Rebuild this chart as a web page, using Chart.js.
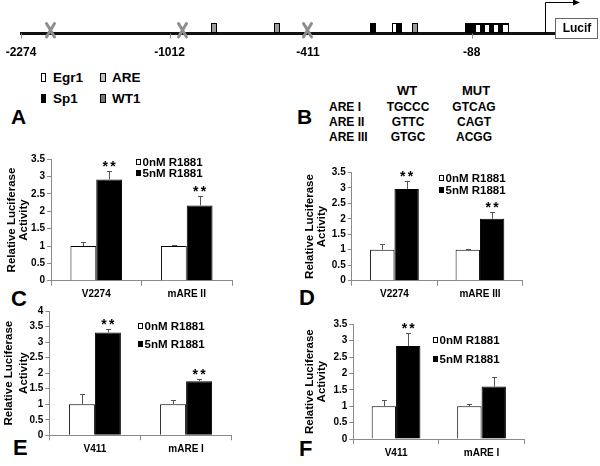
<!DOCTYPE html>
<html>
<head>
<meta charset="utf-8">
<script src="https://cdn.jsdelivr.net/npm/chart.js@4.4.1/dist/chart.umd.min.js"></script>
<style>
    body { margin: 0; background: #fff; }
    #fig { position: relative; width: 600px; height: 466px; overflow: hidden; background: #fff;
           font-family: "Liberation Sans", Arial, sans-serif; font-weight: bold; color: #000; }
    #fig canvas { position: absolute; }
    .c { position: absolute; white-space: nowrap; line-height: 1; transform: translate(-50%, -50%); }
    .l { position: absolute; white-space: nowrap; line-height: 1; transform: translate(0, -50%); }
    .key { position: absolute; border: 1px solid #000; box-sizing: border-box; }
</style>
</head>
<body>
<div id="fig">
    <canvas id="promoter" width="600" height="62" style="left:0;top:0"></canvas>

    <!-- site legend -->
    <div class="key" style="left:41px;top:73px;width:5px;height:9px;background:#fff"></div>
    <div class="l" style="left:53px;top:78px;font-size:13.5px">Egr1</div>
    <div class="key" style="left:41px;top:94px;width:5px;height:9px;background:#000"></div>
    <div class="l" style="left:53px;top:99px;font-size:13.5px">Sp1</div>
    <div class="key" style="left:100px;top:73px;width:6px;height:9px;background:#c4c4c4"></div>
    <div class="l" style="left:112px;top:78px;font-size:13.5px">ARE</div>
    <div class="key" style="left:100px;top:94px;width:6px;height:9px;background:#7a7a7a"></div>
    <div class="l" style="left:112px;top:99px;font-size:13.5px">WT1</div>

    <!-- mutation table -->
    <div id="areTable"></div>

    <div class="l" style="left:11px;top:116px;font-size:21px">A</div>
    <div class="l" style="left:297px;top:116px;font-size:21px">B</div>
    <div class="l" style="left:11px;top:299px;font-size:22px">C</div>
    <div class="l" style="left:299px;top:298px;font-size:22px">D</div>
    <div class="l" style="left:13px;top:448px;font-size:22px">E</div>
    <div class="l" style="left:299px;top:449px;font-size:22px">F</div>

    <canvas id="chartC" width="300" height="165" style="left:0;top:140px"></canvas>
    <canvas id="chartD" width="300" height="155" style="left:300px;top:150px"></canvas>
    <canvas id="chartE" width="300" height="166" style="left:0;top:300px"></canvas>
    <canvas id="chartF" width="300" height="161" style="left:300px;top:305px"></canvas>
</div>

<script>
// ---- data ----
const seriesLabels = ['0nM R1881', '5nM R1881'];

const categoriesC = ['V2274', 'mARE II'];
const ctrlC = [1.0, 1.0];
const ctrlErrC = [0.12, 0.03];
const treatC = [2.92, 2.17];
const treatErrC = [0.25, 0.27];
const starsC = ['**', '**'];

const categoriesD = ['V2274', 'mARE III'];
const ctrlD = [1.0, 1.0];
const ctrlErrD = [0.19, 0.01];
const treatD = [2.96, 2.0];
const treatErrD = [0.27, 0.21];
const starsD = ['**', '**'];

const categoriesE = ['V411', 'mARE I'];
const ctrlE = [1.0, 1.0];
const ctrlErrE = [0.32, 0.13];
const treatE = [3.31, 1.74];
const treatErrE = [0.1, 0.06];
const starsE = ['**', '**'];

const categoriesF = ['V411', 'mARE I'];
const ctrlF = [1.0, 1.0];
const ctrlErrF = [0.19, 0.07];
const treatF = [2.84, 1.6];
const treatErrF = [0.38, 0.28];
const starsF = ['**', ''];

const yTickStep = 0.5;

// promoter map
const siteLabels = ['-2274', '-1012', '-411', '-88'];
const tableHeader = ['WT', 'MUT'];
const tableRows = ['ARE I', 'ARE II', 'ARE III'];
const wtSeq = ['TGCCC', 'GTTC', 'GTGC'];
const mutSeq = ['GTCAG', 'CAGT', 'ACGG'];

const FONT = '"Liberation Sans", Arial, sans-serif';

// ---- promoter diagram (schematic, not to scale) ----
function drawPromoter() {
    const ctx = document.getElementById('promoter').getContext('2d');
    const lineY = 33.5;
    const siteX = [21, 169.5, 308, 471.7];
    const hasTick = [true, true, false, true];

    ctx.strokeStyle = '#111';
    ctx.lineWidth = 3;
    ctx.beginPath(); ctx.moveTo(20, lineY); ctx.lineTo(556, lineY); ctx.stroke();

    ctx.strokeStyle = '#888';
    ctx.lineWidth = 1;
    siteX.forEach((x, i) => {
        if (!hasTick[i]) return;
        ctx.beginPath(); ctx.moveTo(Math.round(x) + 0.5, lineY); ctx.lineTo(Math.round(x) + 0.5, lineY + 5); ctx.stroke();
    });

    ctx.fillStyle = '#000';
    ctx.font = 'bold 12px ' + FONT;
    ctx.textAlign = 'center';
    ctx.textBaseline = 'middle';
    siteLabels.forEach((t, i) => ctx.fillText(t, siteX[i], 52.5));

    // binding sites sitting on the line
    const boxes = [
        [211, 217, '#9a9a9a'], [274, 280, '#9a9a9a'], [412, 418, '#9a9a9a'],
        [370, 376, '#000'], [392, 397, '#fff'], [397, 402, '#000'],
        [465, 509, '#000']
    ];
    boxes.forEach(b => {
        ctx.fillStyle = b[2];
        ctx.fillRect(b[0], 23, b[1] - b[0], 10);
        ctx.strokeStyle = '#000';
        ctx.strokeRect(b[0] + 0.5, 23.5, b[1] - b[0] - 1, 9);
    });
    ctx.fillStyle = '#fff';
    [[476, 480], [485, 489], [494, 498], [503, 508]].forEach(w => ctx.fillRect(w[0], 25, w[1] - w[0], 7));

    // crossed marks
    ctx.strokeStyle = '#8e8e8e';
    ctx.lineWidth = 3;
    ctx.lineCap = 'round';
    [50.5, 182.5, 307.5].forEach(x => {
        ctx.beginPath();
        ctx.moveTo(x - 4, 23.5); ctx.quadraticCurveTo(x, 30, x + 4, 37);
        ctx.moveTo(x + 4, 23.5); ctx.quadraticCurveTo(x, 30, x - 4, 37);
        ctx.stroke();
    });
    ctx.lineCap = 'butt';

    // transcription start arrow and reporter
    ctx.strokeStyle = '#000';
    ctx.lineWidth = 1;
    ctx.beginPath(); ctx.moveTo(545.5, lineY); ctx.lineTo(545.5, 2.5); ctx.lineTo(574, 2.5); ctx.stroke();
    ctx.fillStyle = '#000';
    ctx.beginPath(); ctx.moveTo(580, 2.5); ctx.lineTo(573, -0.5); ctx.lineTo(573, 5.5); ctx.closePath(); ctx.fill();

    ctx.fillStyle = '#fff';
    ctx.fillRect(555, 18, 43, 21);
    ctx.strokeStyle = '#666';
    ctx.strokeRect(555.5, 18.5, 42, 20);
    ctx.fillStyle = '#000';
    ctx.fillText('Lucif', 577, 29);
}

function buildTable() {
    const el = document.getElementById('areTable');
    let html = '';
    html += '<div class="c" style="left:407px;top:90px;font-size:13px">' + tableHeader[0] + '</div>';
    html += '<div class="c" style="left:476px;top:90px;font-size:13px">' + tableHeader[1] + '</div>';
    const rowY = [107, 122, 137];
    tableRows.forEach((r, i) => {
        html += '<div class="l" style="left:329px;top:' + rowY[i] + 'px;font-size:12px">' + r + '</div>';
        html += '<div class="c" style="left:408px;top:' + rowY[i] + 'px;font-size:12px">' + wtSeq[i] + '</div>';
        html += '<div class="c" style="left:474px;top:' + rowY[i] + 'px;font-size:12px">' + mutSeq[i] + '</div>';
    });
    el.innerHTML = html;
}

// ---- chart plugins ----
const errorBars = {
    id: 'errorBars',
    afterDatasetsDraw(chart) {
        const ctx = chart.ctx;
        const yScale = chart.scales.y;
        chart.data.datasets.forEach((ds, di) => {
            chart.getDatasetMeta(di).data.forEach((bar, i) => {
                const x = Math.round(bar.x) + 0.5;
                const top = Math.round(yScale.getPixelForValue(ds.data[i] + ds.errors[i])) + 0.5;
                ctx.save();
                ctx.strokeStyle = '#555';
                ctx.lineWidth = 1;
                ctx.beginPath();
                ctx.moveTo(x, bar.y); ctx.lineTo(x, top);
                ctx.moveTo(x - 2.5, top); ctx.lineTo(x + 2.5, top);
                ctx.stroke();
                if (ds.stars && ds.stars[i]) {
                    ctx.fillStyle = '#000';
                    ctx.font = 'bold 14px ' + FONT;
                    ctx.textAlign = 'center';
                    ctx.textBaseline = 'alphabetic';
                    ctx.fillText('*', bar.x - 3.8, top - 0.5);
                    ctx.fillText('*', bar.x + 3.8, top - 0.5);
                }
                ctx.restore();
            });
        });
    }
};

const panelLegend = {
    id: 'panelLegend',
    afterDraw(chart, args, opts) {
        const ctx = chart.ctx;
        ctx.save();
        ctx.font = 'bold 11.5px ' + FONT;
        ctx.textBaseline = 'middle';
        ctx.textAlign = 'left';
        chart.data.datasets.forEach((ds, i) => {
            const y = Math.round(opts.rows[i]);
            const x = Math.round(opts.x);
            ctx.fillStyle = ds.backgroundColor;
            ctx.fillRect(x, y - 3, 5, 6);
            ctx.strokeStyle = '#000';
            ctx.lineWidth = 1;
            ctx.strokeRect(x + 0.5, y - 2.5, 4, 5);
            ctx.fillStyle = '#000';
            ctx.fillText(ds.label, x + 6.5, y + 0.5);
        });
        ctx.restore();
    }
};

Chart.defaults.font.family = FONT;
Chart.defaults.font.weight = 'bold';
Chart.defaults.color = '#000';

function buildPanel(p) {
    const canvas = document.getElementById(p.id);
    const box = {left: canvas.offsetLeft, top: canvas.offsetTop, width: canvas.width, height: canvas.height};
    const a = p.area;
    const axisGrey = '#8a8a8a';
    const barOpts = {borderColor: '#000', borderWidth: 1, categoryPercentage: 0.57, barPercentage: 1};

    return new Chart(canvas, {
        type: 'bar',
        data: {
            labels: p.categories,
            datasets: [
                Object.assign({label: seriesLabels[0], data: p.ctrl, errors: p.ctrlErr, backgroundColor: '#fff'}, barOpts),
                Object.assign({label: seriesLabels[1], data: p.treat, errors: p.treatErr, stars: p.stars, backgroundColor: '#000'}, barOpts)
            ]
        },
        options: {
            responsive: false,
            animation: false,
            devicePixelRatio: 1,
            layout: {
                padding: {left: 0, top: a.top - box.top, right: box.left + box.width - a.right, bottom: 0}
            },
            plugins: {
                legend: {display: false},
                tooltip: {enabled: false},
                panelLegend: {x: p.legendX - box.left, rows: p.legendRows.map(v => v - box.top)}
            },
            scales: {
                x: {
                    grid: {display: true, drawOnChartArea: false, drawTicks: true, tickLength: 5, color: axisGrey, offset: true},
                    border: {display: true, color: axisGrey},
                    ticks: {font: {size: 10, weight: 'bold'}, padding: 3, color: '#000'},
                    afterFit(s) { s.height = box.top + box.height - a.bottom; }
                },
                y: {
                    min: 0,
                    max: p.yMax,
                    ticks: {
                        stepSize: yTickStep,
                        font: {size: 10, weight: 'bold'},
                        padding: 2,
                        color: '#000',
                        callback: v => String(v)
                    },
                    grid: {display: true, drawOnChartArea: false, drawTicks: true, tickLength: 4, color: axisGrey},
                    border: {display: true, color: axisGrey},
                    title: {
                        display: true,
                        text: ['Relative Luciferase', 'Activity'],
                        font: {size: 11.5, weight: 'bold', lineHeight: p.titleLine},
                        padding: {top: p.titlePad, bottom: 0},
                        color: '#000'
                    },
                    afterFit(s) { s.width = a.left - box.left; }
                }
            }
        },
        plugins: [errorBars, panelLegend]
    });
}

drawPromoter();
buildTable();

buildPanel({id: 'chartC', categories: categoriesC, ctrl: ctrlC, ctrlErr: ctrlErrC, treat: treatC, treatErr: treatErrC, stars: starsC,
    yMax: 3.5, area: {left: 51, top: 159.3, right: 232, bottom: 280.7}, legendX: 136, legendRows: [162.3, 173.3], titlePad: 6, titleLine: 1.02});
buildPanel({id: 'chartD', categories: categoriesD, ctrl: ctrlD, ctrlErr: ctrlErrD, treat: treatD, treatErr: treatErrD, stars: starsD,
    yMax: 3.5, area: {left: 351.7, top: 172.3, right: 522.7, bottom: 280.7}, legendX: 439, legendRows: [177.7, 190], titlePad: 4, titleLine: 1.05});
buildPanel({id: 'chartE', categories: categoriesE, ctrl: ctrlE, ctrlErr: ctrlErrE, treat: treatE, treatErr: treatErrE, stars: starsE,
    yMax: 4, area: {left: 49.3, top: 311, right: 231.7, bottom: 435.3}, legendX: 138, legendRows: [325.7, 344.3], titlePad: 2, titleLine: 1.25});
buildPanel({id: 'chartF', categories: categoriesF, ctrl: ctrlF, ctrlErr: ctrlErrF, treat: treatF, treatErr: treatErrF, stars: starsF,
    yMax: 3.5, area: {left: 353.3, top: 324.3, right: 524.3, bottom: 439}, legendX: 432.5, legendRows: [340, 359], titlePad: 4, titleLine: 1.02});
</script>
</body>
</html>
